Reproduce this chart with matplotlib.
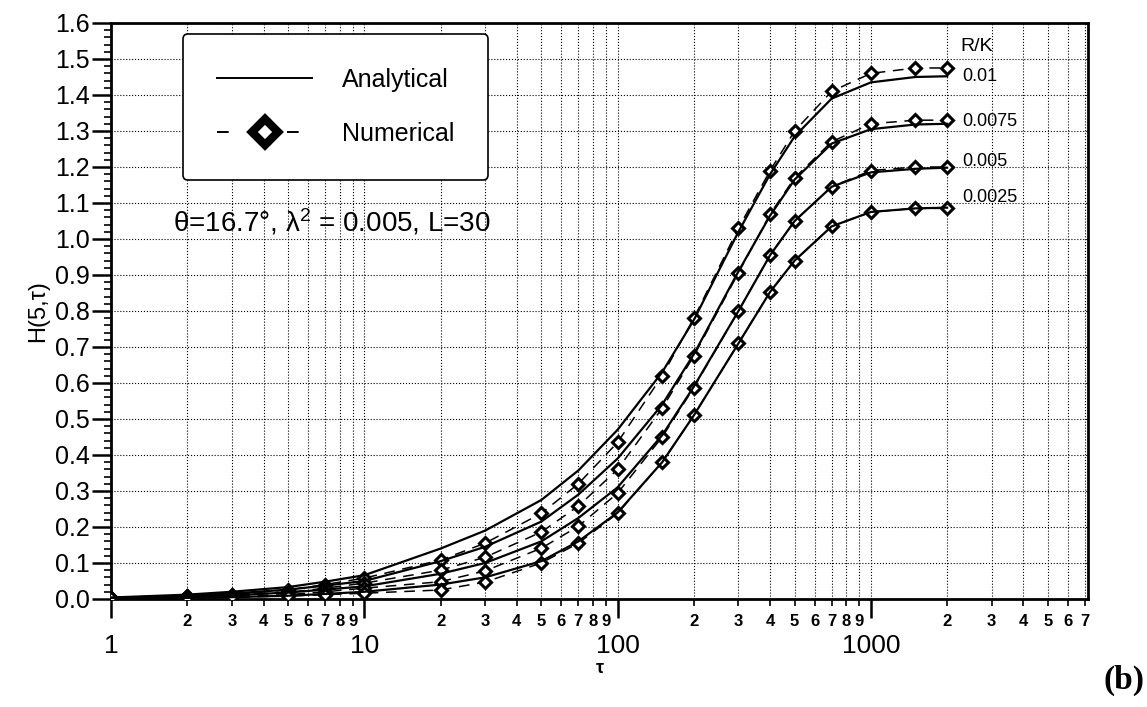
import matplotlib
matplotlib.use('Agg')
import matplotlib.pyplot as plt
from matplotlib.lines import Line2D
from matplotlib.ticker import FixedLocator, MultipleLocator, NullFormatter

plt.rcParams['font.family'] = ['Liberation Sans', 'DejaVu Sans']
plt.rcParams['mathtext.default'] = 'regular'

# time values where the numerical solution is marked
tau = [1, 2, 3, 5, 7, 10, 20, 30, 50, 70, 100, 150, 200, 300, 400, 500, 700, 1000, 1500, 2000]

# numerical results (dashed + diamonds), one list per R/K
num_001 = [0.004, 0.008, 0.012, 0.025, 0.040, 0.058, 0.108, 0.155, 0.238, 0.320, 0.435, 0.620, 0.780,
           1.030, 1.190, 1.300, 1.410, 1.460, 1.475, 1.475]
num_00075 = [0.003, 0.007, 0.010, 0.018, 0.030, 0.044, 0.080, 0.116, 0.186, 0.258, 0.360, 0.530, 0.675,
             0.906, 1.069, 1.170, 1.270, 1.320, 1.330, 1.330]
num_0005 = [0.003, 0.005, 0.007, 0.012, 0.020, 0.030, 0.048, 0.078, 0.141, 0.202, 0.294, 0.450, 0.587,
            0.800, 0.955, 1.050, 1.145, 1.190, 1.200, 1.200]
num_00025 = [0.002, 0.004, 0.005, 0.008, 0.012, 0.016, 0.025, 0.047, 0.100, 0.155, 0.238, 0.380, 0.510,
             0.710, 0.853, 0.940, 1.035, 1.075, 1.085, 1.085]

# analytical results (solid), same tau points
ana_001 = [0.004, 0.012, 0.020, 0.033, 0.048, 0.066, 0.140, 0.190, 0.275, 0.357, 0.470, 0.630, 0.775,
           1.020, 1.180, 1.285, 1.390, 1.435, 1.450, 1.452]
ana_00075 = [0.003, 0.009, 0.015, 0.026, 0.037, 0.050, 0.105, 0.145, 0.215, 0.290, 0.390, 0.540, 0.680,
             0.910, 1.065, 1.165, 1.265, 1.305, 1.318, 1.320]
ana_0005 = [0.002, 0.006, 0.010, 0.018, 0.026, 0.035, 0.070, 0.100, 0.160, 0.225, 0.310, 0.455, 0.590,
            0.800, 0.955, 1.050, 1.145, 1.185, 1.195, 1.198]
ana_00025 = [0.001, 0.003, 0.005, 0.009, 0.014, 0.020, 0.040, 0.060, 0.105, 0.160, 0.240, 0.380, 0.510,
             0.710, 0.853, 0.940, 1.035, 1.075, 1.085, 1.087]

rk_labels = ['0.01', '0.0075', '0.005', '0.0025']
rk_label_y = [1.452, 1.327, 1.216, 1.114]

numerical = [num_001, num_00075, num_0005, num_00025]
analytical = [ana_001, ana_00075, ana_0005, ana_00025]

fig = plt.figure(figsize=(11.47, 7.07), dpi=100)
ax = fig.add_axes([0.0968, 0.1528, 0.8518, 0.8147])

for num, ana in zip(numerical, analytical):
    ax.plot(tau, num, color='k', lw=1.1, dashes=(7, 5), marker='D', markersize=6,
            markerfacecolor='white', markeredgecolor='k', markeredgewidth=2.2, zorder=3)
    ax.plot(tau, ana, color='k', lw=1.6, ls='-', zorder=4)

ax.set_xscale('log')
ax.set_xlim(1, 7200)
ax.set_ylim(0, 1.6)

# x ticks: decades big, 2..9 small bold
major_x = [1, 10, 100, 1000]
minor_x = [m * d for d in major_x for m in range(2, 10) if m * d <= 7200]
ax.xaxis.set_major_locator(FixedLocator(major_x))
ax.set_xticklabels([str(v) for v in major_x])
ax.xaxis.set_minor_locator(FixedLocator(minor_x))
ax.set_xticks(minor_x, minor=True)
ax.set_xticklabels([str(int(v / 10 ** (len(str(int(v))) - 1))) for v in minor_x], minor=True,
                   fontsize=12, fontweight='bold')
ax.tick_params(axis='x', which='major', direction='out', length=14, width=1.8, pad=11, labelsize=19)
ax.tick_params(axis='x', which='minor', direction='out', length=5, width=1.2, pad=6)

ax.yaxis.set_major_locator(MultipleLocator(0.1))
ax.yaxis.set_minor_locator(MultipleLocator(0.02))
ax.yaxis.set_minor_formatter(NullFormatter())
ax.set_yticks([i / 10 for i in range(17)])
ax.set_yticklabels([f'{i / 10:.1f}' for i in range(17)])
ax.tick_params(axis='y', which='major', direction='out', length=14, width=1.8, pad=1.5, labelsize=18)
ax.tick_params(axis='y', which='minor', direction='out', length=5, width=1.2)

ax.grid(True, which='major', axis='y', color='k', ls=':', lw=0.8)
ax.grid(True, which='both', axis='x', color='k', ls=':', lw=0.8)
ax.set_axisbelow(True)

for s in ax.spines.values():
    s.set_linewidth(2)

ax.set_ylabel('H(5,τ)', fontsize=17, labelpad=4)
ax.set_xlabel('τ', fontsize=13, fontweight='bold', labelpad=2)

# legend
handles = [Line2D([], [], color='k', lw=1.4),
           Line2D([], [], color='k', lw=1.4, dashes=(6, 12), marker='D', markersize=13,
                  markerfacecolor='white', markeredgecolor='k', markeredgewidth=6)]
leg = ax.legend(handles, ['Analytical', 'Numerical'], loc='upper left', bbox_to_anchor=(0.074, 0.98),
                borderaxespad=0, fontsize=18, handlelength=3.8, handletextpad=1.2, labelspacing=1.2,
                borderpad=1.35, fancybox=True, framealpha=1, edgecolor='k')
leg.get_frame().set_linewidth(1.2)

ax.text(0.063, 0.655, r'θ=16.7°, λ$^{2}$ = 0.005, L=30', transform=ax.transAxes, fontsize=20,
        ha='left', va='center')

# R/K labels at the curve ends
ax.text(2250, 1.535, 'R/K', fontsize=14, ha='left', va='center')
for lab, yv in zip(rk_labels, rk_label_y):
    ax.text(2300, yv, lab, fontsize=13, ha='left', va='center')

fig.text(0.998, 0.038, '(b)', fontsize=24, fontweight='bold', family='Liberation Serif',
         ha='right', va='center')

fig.savefig('out.png', dpi=100)
